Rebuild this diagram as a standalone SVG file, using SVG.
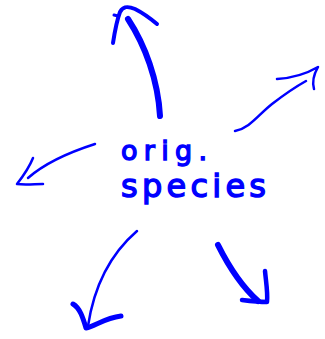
<svg xmlns="http://www.w3.org/2000/svg" width="325" height="339" viewBox="0 0 325 339">
<style>
.ink{fill:none;stroke:#0000ff;stroke-linecap:round;stroke-linejoin:round}
.t{fill:#0000ff;font-family:"DejaVu Sans",sans-serif;stroke:#0000ff;stroke-width:1.4}
</style>
<rect width="325" height="339" fill="#ffffff"/>
<g id="node-orig-species">
<text class="t" x="121" y="160" font-size="27" textLength="86" lengthAdjust="spacing">orig.</text>
<text class="t" x="121" y="197" font-size="32" textLength="145" lengthAdjust="spacing">species</text>
</g>
<g id="connectors">
<g id="arrow-up">
<path class="ink" stroke-width="6" d="M160 116 C158 80 145 45 128 19"/>
<path class="ink" stroke-width="4" d="M113 43 C115 30 117 20 120 12 C123 6 128 6 135 9 C145 14 151 19 157 24"/>
<path class="ink" stroke-width="3" d="M114 15 L118 16"/>
</g>
<g id="arrow-upright">
<path class="ink" stroke-width="2.5" d="M235 131 C250 128 258 115 272 104 C285 94 297 86 306 81"/>
<path class="ink" stroke-width="2.5" d="M277 79 C293 78 306 74 318 67 C314 74 312 82 314 89"/>
</g>
<g id="arrow-left">
<path class="ink" stroke-width="2.5" d="M95 144 C70 152 45 163 28 178"/>
<path class="ink" stroke-width="2.5" d="M33 158 C29 168 24 175 17 184 C25 185 35 184 43 184"/>
</g>
<g id="arrow-downleft">
<path class="ink" stroke-width="2.5" d="M137 231 C115 250 95 280 88 326"/>
<path class="ink" stroke-width="5" d="M73 304 C80 308 83 318 86 328 C95 326 105 318 121 316"/>
</g>
<g id="arrow-downright">
<path class="ink" stroke-width="6" d="M218 245 C228 265 240 285 258 301"/>
<path class="ink" stroke-width="4.5" d="M265 271 C266 282 268 293 267 302 C258 302 250 301 242 300"/>
</g>
</g>
</svg>
